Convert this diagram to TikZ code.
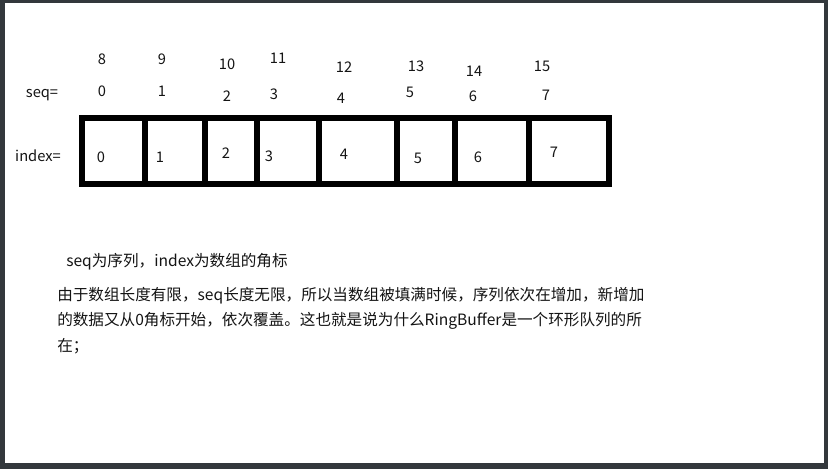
\documentclass[tikz,border=0pt]{standalone}
\usepackage{fontspec}
\setmainfont{Noto Sans CJK SC}
\definecolor{frame}{HTML}{33383C}
\definecolor{ink}{HTML}{141414}
\tikzset{
  num/.style={inner sep=0pt, text=ink, font=\fontsize{11pt}{13pt}\selectfont},
  lbl/.style={inner sep=0pt, text=ink, font=\fontsize{11pt}{13pt}\selectfont},
  para/.style={inner sep=0pt, anchor=west, text=ink, font=\fontsize{11.7pt}{14pt}\selectfont},
  cellline/.style={line width=3.8pt, draw=black, line cap=round, line join=miter}
}
\begin{document}
\begin{tikzpicture}[x=0.75pt,y=-0.75pt]
\useasboundingbox (0,0) rectangle (828,469);
\fill[frame] (0,0) rectangle (828,469);
\fill[white] (5,3) rectangle (824,463);
% array box
\draw[cellline] (82,118) rectangle (609,184);
\foreach \x in {145,205,257,319,397,455,529}
  \draw[cellline] (\x,118) -- (\x,184);
% labels
\node[lbl] (seq) at (42,95) {seq=};
\node[lbl] (index) at (38,156) {index=};
% top numbers
\node[num] (s8) at (102,59) {8};
\node[num] (s9) at (162,59) {9};
\node[num] (s10) at (227,64) {10};
\node[num] (s11) at (278,58) {11};
\node[num] (s12) at (344,67) {12};
\node[num] (s13) at (416,66) {13};
\node[num] (s14) at (474,71) {14};
\node[num] (s15) at (542,66) {15};
\node[num] (s0) at (102,91) {0};
\node[num] (s1) at (162,91) {1};
\node[num] (s2) at (227,96) {2};
\node[num] (s3) at (274,94) {3};
\node[num] (s4) at (341,98) {4};
\node[num] (s5) at (410,92) {5};
\node[num] (s6) at (473,96) {6};
\node[num] (s7) at (546,95) {7};
% index numbers
\node[num] (i0) at (101,157) {0};
\node[num] (i1) at (160,157) {1};
\node[num] (i2) at (226,153) {2};
\node[num] (i3) at (269,156) {3};
\node[num] (i4) at (344,154) {4};
\node[num] (i5) at (418,158) {5};
\node[num] (i6) at (478,157) {6};
\node[num] (i7) at (554,152) {7};
% paragraph
\node[para] (p1) at (66,262) {seq为序列，index为数组的角标};
\node[para] (p2) at (57,296) {由于数组长度有限，seq长度无限，所以当数组被填满时候，序列依次在增加，新增加};
\node[para] (p3) at (57,321) {的数据又从0角标开始，依次覆盖。这也就是说为什么RingBuffer是一个环形队列的所};
\node[para] (p4) at (57,346) {在；};
\end{tikzpicture}
\end{document}
